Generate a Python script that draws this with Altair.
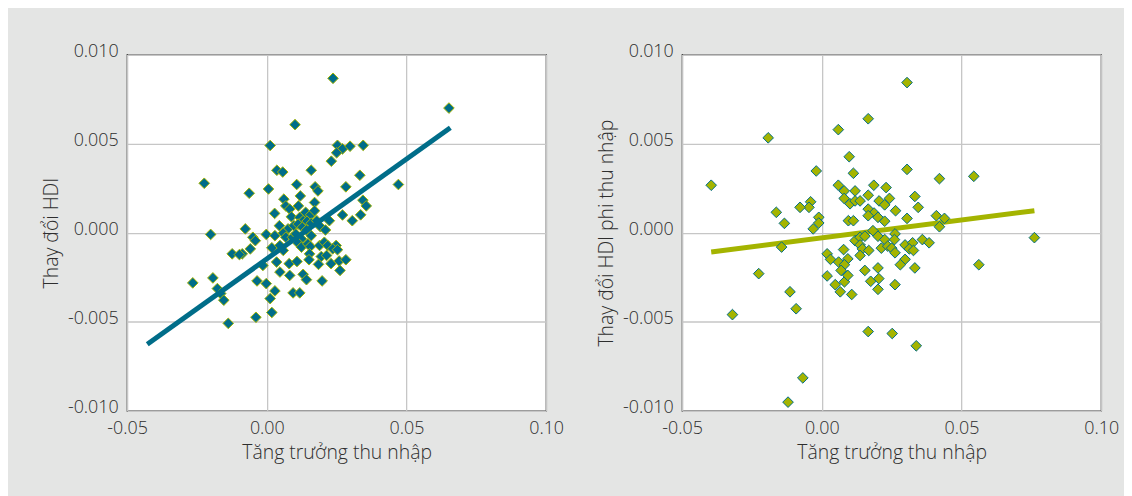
import altair as alt
import pandas as pd

# ---- data ----
left_x = [0.0237, 0.0652, 0.0101, 0.0012, 0.0253, 0.0271, 0.0298, 0.0345, 0.025, 0.0231,
          -0.0224, 0.0036, 0.0057, 0.0159, 0.0333, 0.0283, 0.0471, 0.0107, 0.0173, 0.0183,
          -0.0063, 0.0006, 0.0061, 0.012, 0.0171, 0.0068, 0.0082, 0.0113, 0.0028, 0.0088,
          0.0139, 0.0157, 0.0171, 0.0118, 0.013, 0.0144, 0.0159, 0.0179, 0.0224, 0.0271,
          0.0306, 0.0336, 0.0344, 0.0356, 0.0045, 0.0076, 0.0097, 0.0112, 0.0127, 0.0142,
          0.0192, 0.021, -0.0077, -0.0002, -0.005, -0.0041, 0.0029, 0.0059, 0.0068, 0.0092,
          0.0104, 0.0124, 0.0159, -0.0059, -0.0088, 0.0018, 0.0047, 0.0059, 0.0112, 0.0124,
          0.0147, 0.0156, 0.0189, 0.0206, 0.0218, 0.0248, 0.0236, 0.0253, 0.0153, 0.0195,
          0.0214, 0.0035, 0.008, 0.0108, 0.0151, 0.0185, 0.023, 0.0259, 0.0283, 0.0262,
          -0.0014, 0.0047, 0.0082, 0.013, 0.0142, 0.0198, -0.0035, -0.0002, 0.0029, 0.0012,
          0.0094, 0.0118, -0.0201, -0.0124, -0.0098, -0.0265, -0.0193, -0.0177, -0.0165, -0.0154,
          -0.0138, -0.0039, 0.0018]
left_y = [0.00866, 0.00699, 0.00606, 0.00489, 0.0049, 0.0047, 0.00485, 0.0049, 0.00448, 0.00401,
          0.00277, 0.0035, 0.0034, 0.0035, 0.00322, 0.00257, 0.0027, 0.0027, 0.00257, 0.00234,
          0.00221, 0.00245, 0.00188, 0.00206, 0.00169, 0.0015, 0.00132, 0.0015, 0.00108, 0.00089,
          0.00114, 0.001, 0.00123, 0.00086, 0.00067, 0.00064, 0.00052, 0.00067, 0.00067, 0.00099,
          0.00067, 0.001, 0.00182, 0.0015, 0.00039, 0.00021, 0.00039, 0.00048, 0.0003, 0.00015,
          0.00033, 0.00015, 0.00021, -0.0001, -0.00026, -0.00045, -0.00017, -0.00003, -0.00026, -0.00026,
          -0.00007, -0.00035, -0.00017, -0.00091, -0.00119, -0.00085, -0.00072, -0.001, -0.00059, -0.00081,
          -0.00063, -0.00078, -0.00072, -0.00054, -0.00072, -0.00072, -0.00091, -0.00096, -0.00119, -0.00134,
          -0.00128, -0.00165, -0.00174, -0.00162, -0.00152, -0.00178, -0.00174, -0.00159, -0.00152, -0.00212,
          -0.00184, -0.00221, -0.0024, -0.00234, -0.00264, -0.00271, -0.00271, -0.00286, -0.00327, -0.0037,
          -0.00338, -0.00338, -0.0001, -0.00119, -0.00123, -0.00282, -0.00254, -0.00314, -0.00342, -0.00379,
          -0.00509, -0.00475, -0.00448]

right_x = [0.0305, 0.0166, 0.0059, -0.0192, 0.0098, -0.002, 0.0113, 0.0305, 0.0421, 0.0544,
           -0.0396, 0.0059, 0.008, 0.0119, 0.0186, 0.023, 0.0166, 0.008, 0.0101, 0.0119,
           0.0137, 0.0205, 0.0225, 0.0242, 0.0333, 0.0345, -0.004, -0.0046, -0.0078, -0.0163,
           -0.0134, -0.0011, -0.0011, -0.0031, 0.0166, 0.0187, 0.0166, 0.0201, 0.0225, 0.0264,
           0.0095, 0.0113, 0.0305, 0.041, 0.0439, 0.0421, 0.0761, 0.0183, 0.0201, 0.0262,
           0.0119, 0.0137, 0.0154, 0.0225, 0.026, 0.0298, 0.0325, 0.036, 0.0384, 0.0078,
           0.0137, 0.0145, 0.0168, 0.0213, 0.0236, 0.025, 0.0313, 0.0328, 0.0262, 0.0019,
           0.0031, 0.006, 0.0093, 0.0081, 0.0069, 0.0137, 0.0298, 0.0281, 0.0333, 0.0019,
           0.0154, 0.0201, 0.0048, 0.0081, 0.0093, 0.0175, 0.0204, 0.0262, 0.0066, 0.0107,
           0.0201, -0.0144, -0.0226, -0.0114, -0.0092, -0.032, 0.0562, 0.0166, 0.0252, 0.0338,
           -0.0068, -0.0121]
right_y = [0.00842, 0.00639, 0.00578, 0.00532, 0.00426, 0.00346, 0.00333, 0.00355, 0.00303, 0.00316,
           0.00266, 0.00266, 0.00234, 0.00234, 0.00266, 0.00253, 0.0021, 0.00192, 0.00162, 0.00178,
           0.00178, 0.00178, 0.00156, 0.00192, 0.00203, 0.00142, 0.00173, 0.00142, 0.00142, 0.00114,
           0.00052, 0.00086, 0.00054, 0.00021, 0.00132, 0.0011, 0.00095, 0.00086, 0.00064, 0.00123,
           0.00067, 0.00067, 0.0008, 0.00095, 0.0008, 0.00033, -0.00028, 0.00011, -0.0002, -0.00007,
           -0.00045, -0.00026, -0.0002, -0.00039, -0.00039, -0.00069, -0.00057, -0.00039, -0.00057, -0.00095,
           -0.00069, -0.00091, -0.001, -0.00087, -0.00076, -0.00087, -0.00091, -0.001, -0.00113, -0.00119,
           -0.0015, -0.00165, -0.00147, -0.0018, -0.00212, -0.00128, -0.0015, -0.0018, -0.00198, -0.00243,
           -0.00212, -0.00198, -0.00292, -0.00276, -0.0024, -0.00273, -0.00258, -0.00292, -0.00332, -0.00347,
           -0.00318, -0.00081, -0.0023, -0.00332, -0.00427, -0.0046, -0.0018, -0.00555, -0.00566, -0.00635,
           -0.00815, -0.00951]

left_fit_x = [-0.0428, 0.0657]
left_fit_y = [-0.00626, 0.00588]
right_fit_x = [-0.0396, 0.0761]
right_fit_y = [-0.00109, 0.00123]

x_ticks = [-0.05, 0.0, 0.05, 0.10]
y_ticks = [-0.010, -0.005, 0.0, 0.005, 0.010]

x_title = "Tăng trưởng thu nhập"
left_title = "Thay đổi HDI"
right_title = "Thay đổi HDI phi thu nhập"

TEAL = "#006d89"
OLIVE = "#a4b400"
BG = "#e4e5e4"


def panel(px, py, fx, fy, fill, stroke, ytitle, line_on_top):
    pts = pd.DataFrame({"x": px, "y": py})
    fit = pd.DataFrame({"x": fx, "y": fy})
    xenc = alt.X(
        "x:Q",
        scale=alt.Scale(domain=[-0.05, 0.10], nice=False, zero=False),
        axis=alt.Axis(
            values=x_ticks,
            title=x_title,
            labelFlush=False,
            labelExpr="replace(format(datum.value, '.2f'), '\u2212', '-')",
        ),
    )
    yenc = alt.Y(
        "y:Q",
        scale=alt.Scale(domain=[-0.010, 0.010], nice=False, zero=False),
        axis=alt.Axis(
            values=y_ticks,
            title=ytitle,
            labelOffset=-3,
            labelExpr="replace(format(datum.value, '.3f'), '\u2212', '-')",
        ),
    )
    points = alt.Chart(pts).mark_point(
        shape="diamond", filled=True, fill=fill, stroke=stroke,
        strokeWidth=1, size=115, opacity=1, fillOpacity=1, strokeOpacity=1,
    ).encode(x=xenc, y=yenc)
    line = alt.Chart(fit).mark_line(color=fill, strokeWidth=5).encode(
        x=alt.X("x:Q"), y=alt.Y("y:Q")
    )
    layers = [points, line] if line_on_top else [line, points]
    return alt.layer(*layers).properties(width=422, height=359)


left = panel(left_x, left_y, left_fit_x, left_fit_y, TEAL, OLIVE, left_title, True)
right = panel(right_x, right_y, right_fit_x, right_fit_y, OLIVE, TEAL, right_title, False)

FONT = "Open Sans"
chart = (
    alt.hconcat(left, right, spacing=137, bounds="flush")
    .properties(
        background=BG,
        padding={"left": 33, "top": 32, "right": 4, "bottom": 32},
    )
    .configure_view(stroke="#1e1e1e", strokeWidth=1.3, fill="white")
    .configure_axis(
        labelFont=FONT,
        labelFontSize=18,
        labelFontWeight=300,
        labelColor="#2e2e2e",
        titleFont=FONT,
        titleFontSize=19.5,
        titleFontWeight=300,
        titleColor="#2e2e2e",
        grid=True,
        gridColor="#c6c6c6",
        gridWidth=1.3,
        domain=False,
        ticks=False,
        labelPadding=9,
        titlePadding=6,
    )
)

chart.save("out.html", embed_options={"renderer": "svg", "actions": False})
